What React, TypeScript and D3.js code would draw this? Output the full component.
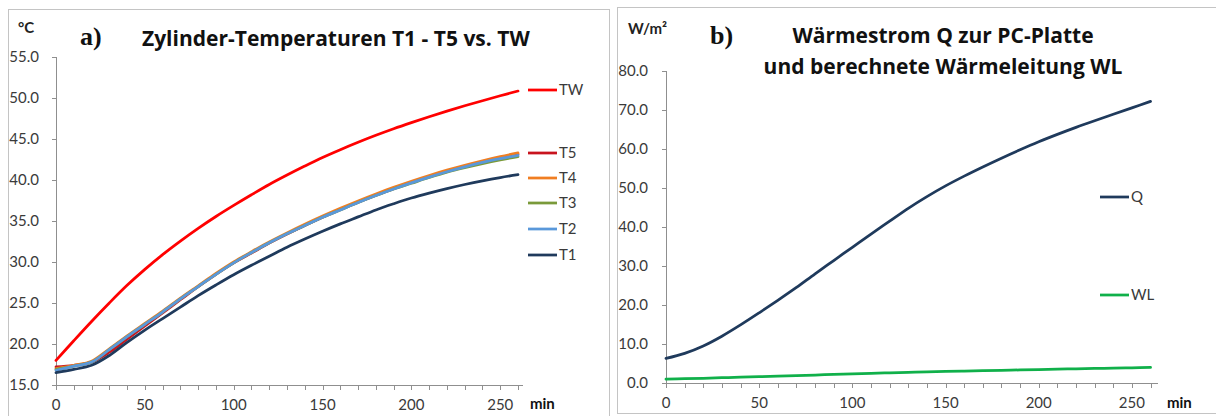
import React from "react";
import * as d3 from "d3";

const minutes = [0, 10, 20, 30, 40, 50, 60, 70, 80, 90, 100, 110, 120, 130, 140, 150, 160, 170, 180, 190, 200, 210, 220, 230, 240, 250, 260];

const TW = [18.0, 20.4, 22.75, 25.0, 27.15, 29.1, 30.9, 32.55, 34.1, 35.55, 36.9, 38.2, 39.45, 40.6, 41.7, 42.75, 43.7, 44.6, 45.45, 46.25, 47.0, 47.72, 48.4, 49.05, 49.67, 50.27, 50.85];
const T5 = [17.2, 17.4, 17.8, 19.0, 20.6, 22.2, 23.8, 25.4, 27.0, 28.5, 29.9, 31.1, 32.3, 33.4, 34.45, 35.45, 36.4, 37.3, 38.15, 38.95, 39.7, 40.4, 41.05, 41.65, 42.2, 42.7, 43.15];
const T4 = [17.0, 17.4, 17.9, 19.4, 21.0, 22.5, 24.0, 25.6, 27.1, 28.6, 30.0, 31.25, 32.45, 33.55, 34.6, 35.6, 36.55, 37.45, 38.3, 39.1, 39.85, 40.55, 41.2, 41.8, 42.35, 42.85, 43.3];
const T3 = [16.9, 17.3, 17.8, 19.3, 20.9, 22.4, 23.9, 25.5, 27.0, 28.5, 29.9, 31.15, 32.35, 33.45, 34.45, 35.45, 36.35, 37.25, 38.1, 38.9, 39.6, 40.3, 40.95, 41.5, 42.0, 42.45, 42.85];
const T2 = [16.8, 17.3, 17.8, 19.3, 20.9, 22.4, 23.9, 25.5, 27.0, 28.5, 29.9, 31.15, 32.35, 33.45, 34.45, 35.45, 36.35, 37.25, 38.1, 38.9, 39.65, 40.35, 41.0, 41.6, 42.15, 42.6, 43.0];
const T1 = [16.5, 16.9, 17.4, 18.6, 20.2, 21.7, 23.1, 24.5, 25.9, 27.2, 28.45, 29.6, 30.7, 31.8, 32.8, 33.75, 34.65, 35.5, 36.35, 37.1, 37.8, 38.4, 38.95, 39.45, 39.9, 40.3, 40.65];

const Q = [6.3, 7.6, 9.5, 12.0, 14.9, 18.0, 21.2, 24.5, 28.0, 31.4, 34.8, 38.2, 41.5, 44.8, 47.8, 50.55, 53.05, 55.4, 57.65, 59.8, 61.85, 63.75, 65.55, 67.25, 68.9, 70.55, 72.2];
const WL = [1.0, 1.1, 1.2, 1.35, 1.5, 1.62, 1.75, 1.9, 2.05, 2.2, 2.35, 2.48, 2.6, 2.72, 2.84, 2.95, 3.05, 3.15, 3.25, 3.35, 3.45, 3.55, 3.63, 3.72, 3.8, 3.9, 4.0];

const leftYTicks = [15, 20, 25, 30, 35, 40, 45, 50, 55];
const rightYTicks = [0, 10, 20, 30, 40, 50, 60, 70, 80];
const xLabelTicks = [0, 50, 100, 150, 200, 250];
const xMinorTicks = d3.range(0, 261, 10);

const leftSeries = [
  { name: "T5", values: T5, color: "#C8141E", legendY: 153 },
  { name: "T4", values: T4, color: "#F07E22", legendY: 178 },
  { name: "T3", values: T3, color: "#7A9A3A", legendY: 203 },
  { name: "T2", values: T2, color: "#5A98DA", legendY: 229 },
  { name: "T1", values: T1, color: "#1F3A5C", legendY: 255 },
];
const twSeries = { name: "TW", values: TW, color: "#FF0000", legendY: 90 };

const rightSeries = [
  { name: "Q", values: Q, color: "#1F3A5C", legendY: 197 },
  { name: "WL", values: WL, color: "#10B04A", legendY: 295 },
];

const FONT = "Lato, 'Open Sans', sans-serif";
const TITLE_FONT = "'Open Sans', Lato, sans-serif";
const AXIS = "#8f8f8f";
const LABEL = "#3a3a3a";

function Panel(props: {
  x0: number; x1: number; y0: number; y1: number;
  xDomainMax: number; yTicks: number[]; yDomain: [number, number];
  series: { name: string; values: number[]; color: string; legendY: number }[];
  legendX: number; labelRight: number;
}) {
  const { x0, x1, y0, y1, xDomainMax, yTicks, yDomain, series, legendX, labelRight } = props;
  const x = d3.scaleLinear().domain([0, xDomainMax]).range([x0, x1]);
  const y = d3.scaleLinear().domain(yDomain).range([y1, y0]);
  const line = d3.line<number>()
    .x((_, i) => x(minutes[i]))
    .y((v) => y(v))
    .curve(d3.curveCatmullRom.alpha(0.5));
  return (
    <g>
      <line x1={x0 + 0.5} x2={x0 + 0.5} y1={y0} y2={y1} stroke={AXIS} />
      <line x1={x0} x2={x1} y1={y1 + 0.5} y2={y1 + 0.5} stroke={AXIS} />
      {yTicks.map((t) => (
        <g key={"y" + t}>
          <line x1={x0 - 4} x2={x0} y1={Math.round(y(t)) + 0.5} y2={Math.round(y(t)) + 0.5} stroke={AXIS} />
          <text x={labelRight} y={y(t)} dy="0.35em" textAnchor="end" fontSize={15} fill={LABEL} fontFamily={FONT}>
            {t.toFixed(1)}
          </text>
        </g>
      ))}
      {xMinorTicks.map((t) => (
        <line key={"xm" + t} x1={Math.round(x(t)) + 0.5} x2={Math.round(x(t)) + 0.5} y1={y1} y2={y1 + 5} stroke={AXIS} />
      ))}
      {xLabelTicks.map((t) => (
        <text key={"xl" + t} x={x(t)} y={y1 + 25} textAnchor="middle" fontSize={15} fill={LABEL} fontFamily={FONT}>
          {t}
        </text>
      ))}
      {series.map((s) => (
        <path key={s.name} d={line(s.values) || ""} fill="none" stroke={s.color} strokeWidth={2.75} strokeLinecap="round" />
      ))}
      {series.map((s) => (
        <g key={"lg" + s.name}>
          <line x1={legendX} x2={legendX + 29} y1={s.legendY} y2={s.legendY} stroke={s.color} strokeWidth={2.75} />
          <text x={legendX + 31} y={s.legendY} dy="0.36em" fontSize={15} fill={LABEL} fontFamily={FONT}>
            {s.name}
          </text>
        </g>
      ))}
    </g>
  );
}

export default function App() {
  return (
    <svg width={1216} height={416} style={{ position: "absolute", left: 0, top: 0, background: "#fff" }}>
      <rect x={0} y={0} width={1216} height={416} fill="#fff" />
      <rect x={8.5} y={9.5} width={601} height={420} fill="none" stroke="#c4c4c4" />
      <rect x={617.5} y={7.5} width={620} height={406} fill="none" stroke="#c4c4c4" />

      {/* Left panel */}
      <text x={18} y={33} fontSize={15} fontWeight="bold" fill="#222" fontFamily={FONT}>°C</text>
      <text x={80} y={45} fontSize={26} fontWeight="bold" fill="#111" fontFamily="'Liberation Serif', 'DejaVu Serif', serif">a)</text>
      <text x={142} y={46} fontSize={21} fontWeight="bold" fill="#111" fontFamily={TITLE_FONT}>Zylinder-Temperaturen T1 - T5 vs. TW</text>
      <Panel x0={56} x1={523} y0={57} y1={385} xDomainMax={262.8} yTicks={leftYTicks} yDomain={[15, 55]}
        series={[...leftSeries, twSeries]} legendX={528} labelRight={39} />
      <text x={530} y={409} fontSize={15} fontWeight="bold" fill="#111" fontFamily={FONT}>min</text>

      {/* Right panel */}
      <text x={628} y={34} fontSize={15} fontWeight="bold" fill="#222" fontFamily={FONT}>W/m²</text>
      <text x={710} y={44} fontSize={26} fontWeight="bold" fill="#111" fontFamily="'Liberation Serif', 'DejaVu Serif', serif">b)</text>
      <text x={943} y={43} fontSize={21} fontWeight="bold" fill="#111" textAnchor="middle" fontFamily={TITLE_FONT}>Wärmestrom Q zur PC-Platte</text>
      <text x={943} y={74} fontSize={21} fontWeight="bold" fill="#111" textAnchor="middle" fontFamily={TITLE_FONT}>und berechnete Wärmeleitung WL</text>
      <Panel x0={666} x1={1158} y0={71} y1={383} xDomainMax={264} yTicks={rightYTicks} yDomain={[0, 80]}
        series={rightSeries} legendX={1100} labelRight={648} />
      <text x={1167} y={408} fontSize={15} fontWeight="bold" fill="#111" fontFamily={FONT}>min</text>
    </svg>
  );
}
